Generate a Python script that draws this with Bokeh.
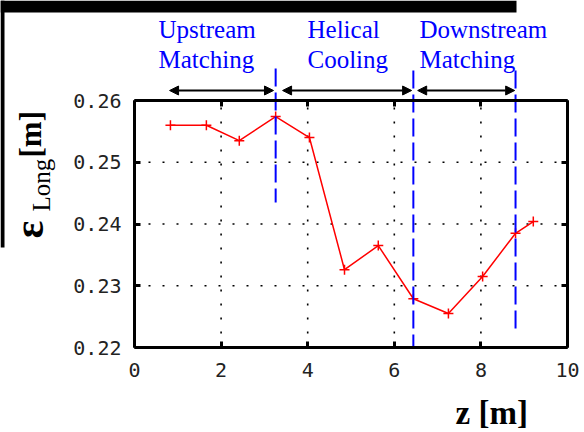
import numpy as np
from bokeh.plotting import figure
from bokeh.models import Range1d, FixedTicker, LinearAxis, Label, Arrow, NormalHead
from bokeh.embed import file_html
from bokeh.resources import INLINE

# ---- data ----
z = [0.83, 1.66, 2.42, 3.26, 4.04, 4.85, 5.63, 6.44, 7.25, 8.04, 8.80, 9.21]
emit = [0.2560, 0.2560, 0.2535, 0.2574, 0.2540, 0.2326, 0.2365, 0.2279, 0.2255, 0.2315, 0.2385, 0.2404]
x_ticks = [0, 2, 4, 6, 8, 10]
x_tick_labels = ["0", "2", "4", "6", "8", "10"]
y_ticks = [0.22, 0.23, 0.24, 0.25, 0.26]
y_tick_labels = ["0.22", "0.23", "0.24", "0.25", "0.26"]
section_line1 = ["Upstream", "Helical", "Downstream"]
section_line2 = ["Matching", "Cooling", "Matching"]
section_start = [0.81, 3.42, 6.54]
section_end = [3.21, 6.40, 8.78]
boundaries = [3.26, 6.44, 8.80]

# ---- layout (page pixels) ----
W, H = 584, 432
FL, FR, FT, FB = 134, 567, 100, 347   # data box edges in page px
X0, X1, Y0, Y1 = 0, 10, 0.22, 0.26
BASE_SHIFT = 0.34  # bokeh's alphabetic baseline sits ~0.34em low

def dx(px):
    return X0 + (px - FL) * (X1 - X0) / (FR - FL)

def dy(py):
    return Y1 - (py - FT) * (Y1 - Y0) / (FB - FT)

p = figure(width=W, height=H, output_backend="svg", toolbar_location=None,
           title=None, x_range=Range1d(dx(0), dx(W)), y_range=Range1d(dy(H), dy(0)),
           min_border=0)
p.background_fill_color = "white"
p.border_fill_color = "white"
p.outline_line_color = None
p.xgrid.visible = False
p.ygrid.visible = False

def style_axis(ax, ticks, bounds):
    ax.ticker = FixedTicker(ticks=ticks)
    ax.bounds = bounds
    ax.axis_line_color = "black"
    ax.axis_line_width = 3
    ax.major_tick_in = 6
    ax.major_tick_out = 0
    ax.major_tick_line_width = 3
    ax.minor_tick_line_color = None

tick_font = "DejaVu Sans Mono"
xa = p.xaxis[0]
style_axis(xa, x_ticks, (X0, X1))
xa.fixed_location = Y0
xa.major_label_overrides = {t: l for t, l in zip(x_ticks, x_tick_labels)}
xa.major_label_standoff = 15
ya = p.yaxis[0]
style_axis(ya, y_ticks, (Y0, Y1))
ya.fixed_location = X0
ya.major_label_overrides = {t: l for t, l in zip(y_ticks, y_tick_labels)}
ya.major_label_standoff = 13
for ax in (xa, ya):
    ax.major_label_text_font = tick_font
    ax.major_label_text_font_size = "20px"
    ax.major_label_text_color = "#222222"

top_ax = LinearAxis(fixed_location=Y1)
style_axis(top_ax, x_ticks, (X0, X1))
top_ax.major_label_text_color = None
p.add_layout(top_ax, "above")
right_ax = LinearAxis(fixed_location=X1)
style_axis(right_ax, y_ticks, (Y0, Y1))
right_ax.major_label_text_color = None
p.add_layout(right_ax, "right")

# dotted grid, kept inside the data box
gx = x_ticks[1:-1]
gy = y_ticks[1:-1]
p.segment(x0=gx, y0=[Y0] * len(gx), x1=gx, y1=[Y1] * len(gx),
          line_color="black", line_width=1.6, line_dash="2 12")
p.segment(x0=[X0] * len(gy), y0=gy, x1=[X1] * len(gy), y1=gy,
          line_color="black", line_width=1.6, line_dash="2 12")

# black strips of the original picture
p.quad(left=[dx(0), dx(0)], right=[dx(516), dx(4)], top=[dy(0), dy(0)],
       bottom=[dy(12), dy(247)], fill_color="black", line_color=None)

# data
p.line(z, emit, line_color="red", line_width=1.5)
p.scatter(z, emit, marker="cross", size=10, line_color="red", line_width=1.5)

# section boundaries (blue dashed)
tops = [dy(68), dy(70), dy(70)]
bottoms = [dy(202), dy(347), dy(332)]
p.segment(x0=boundaries, y0=tops, x1=boundaries, y1=bottoms,
          line_color="blue", line_width=2, line_dash="18 6")

# section arrows
for s, e in zip(section_start, section_end):
    p.add_layout(Arrow(start=NormalHead(size=9, fill_color="black", line_color="black"),
                       end=NormalHead(size=9, fill_color="black", line_color="black"),
                       x_start=s, y_start=dy(90), x_end=e, y_end=dy(90),
                       line_color="black", line_width=2))

def hlabel(text, left_px, base_px, fs, color="black", style="normal"):
    p.add_layout(Label(x=dx(left_px), y=dy(base_px - BASE_SHIFT * fs), text=text,
                       text_align="left", text_baseline="alphabetic",
                       text_font="Liberation Serif", text_font_size=f"{fs}px",
                       text_font_style=style, text_color=color))

def vlabel(text, base_px, start_px, fs, style="normal"):
    p.add_layout(Label(x=dx(base_px - BASE_SHIFT * fs), y=dy(start_px), text=text,
                       angle=np.pi / 2, text_align="left", text_baseline="alphabetic",
                       text_font="Liberation Serif", text_font_size=f"{fs}px",
                       text_font_style=style, text_color="black"))

# section labels
label_left = [158, 307, 419]
for l1, l2, lx in zip(section_line1, section_line2, label_left):
    hlabel(l1, lx, 37, 25, color="blue")
    hlabel(l2, lx, 67, 25, color="blue")

# x axis label
hlabel("z [m]", 455, 424, 33, style="bold")

# y axis label (rotated)
vlabel("ε", 43, 238, 42, style="bold")
vlabel("Long", 49, 211, 25)
vlabel("[m]", 41, 157, 31, style="bold")

open("out.html", "w").write(file_html(p, INLINE))
